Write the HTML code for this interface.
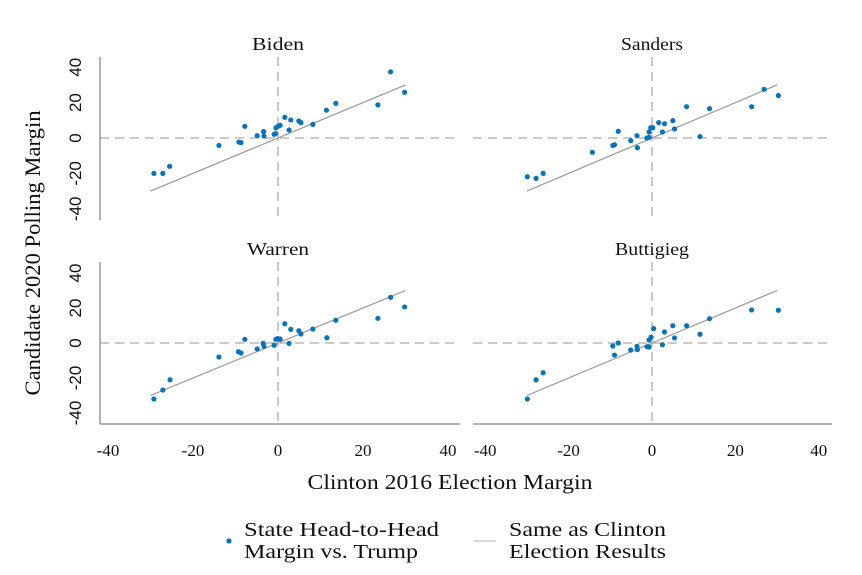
<!DOCTYPE html>
<html><head><meta charset="utf-8"><style>
html,body{margin:0;padding:0;background:#fff;}
svg{display:block;font-family:"Liberation Serif",serif;}
</style></head><body>
<svg id="chart" width="862" height="575" viewBox="0 0 862 575" xmlns="http://www.w3.org/2000/svg">
<g id="panels"></g>
<text x="40" y="253" transform="rotate(-90 40 253)" text-anchor="middle" font-size="22" textLength="285" lengthAdjust="spacingAndGlyphs" fill="#111">Candidate 2020 Polling Margin</text>
<text x="450" y="489" text-anchor="middle" font-size="21" textLength="285" lengthAdjust="spacingAndGlyphs" fill="#111">Clinton 2016 Election Margin</text>
<g>
<circle cx="229" cy="541" r="2.6" fill="#0a72b5"/>
<text x="244" y="536" font-size="20" textLength="195" lengthAdjust="spacingAndGlyphs" fill="#111">State Head-to-Head</text>
<text x="244" y="558" font-size="20" textLength="174" lengthAdjust="spacingAndGlyphs" fill="#111">Margin vs. Trump</text>
<line x1="474" y1="541" x2="496" y2="541" stroke="#ccc" stroke-width="1.5"/>
<text x="509" y="536" font-size="20" textLength="157" lengthAdjust="spacingAndGlyphs" fill="#111">Same as Clinton</text>
<text x="509" y="558" font-size="20" textLength="157" lengthAdjust="spacingAndGlyphs" fill="#111">Election Results</text>
</g>
</svg>
<script>
const panelNames = ["Biden","Sanders","Warren","Buttigieg"];
const titleWidths = [52,62,62,74];
const xTicks = [-40,-20,0,20,40];
const yTicks = [-40,-20,0,20,40];
const bidenX = [-29.2,-27.1,-25.5,-13.9,-9.2,-8.7,-7.8,-4.9,-3.4,-3.3,-0.9,-0.6,-0.5,0,0.5,1.6,2.6,3.0,4.9,5.4,8.2,11.4,13.6,23.5,26.5,29.8];
const bidenY = [-20,-20,-16,-4.2,-2.3,-2.6,6.6,1.3,3.6,1.1,2.1,2.5,5.7,6.6,7.2,11.7,4.5,10.2,9.6,8.7,7.7,15.7,19.6,18.7,37.4,25.8];
const sandersX = [-29.9,-27.8,-26.1,-14.3,-9.4,-9.0,-8.1,-5.1,-3.6,-3.5,-1.2,-0.7,-0.7,-0.3,0.2,1.6,2.5,3.0,5.0,5.4,8.3,11.5,13.8,23.9,26.9,30.3];
const sandersY = [-21.9,-22.8,-20,-8.1,-4.2,-3.8,3.8,-1.5,1.3,-5.5,0,0.4,3.4,5.8,5.8,8.7,3.4,8.1,9.8,5.1,17.7,0.8,16.6,17.7,27.5,24];
const warrenX = [-29.2,-27.1,-25.4,-13.9,-9.3,-8.7,-7.8,-4.9,-3.5,-3.3,-0.9,-0.5,-0.1,0.5,1.6,2.6,3.0,4.9,5.4,8.2,11.5,13.6,23.5,26.5,29.8];
const warrenY = [-32,-26.9,-21,-8,-5,-5.7,2.1,-3.4,-0.2,-1.9,-1.3,2.1,2.5,2.3,11,-0.2,7.8,7,5.1,8,3,13,14.1,26.1,20.6];
const buttX = [-29.9,-27.8,-26.1,-9.4,-9.0,-8.1,-5.1,-3.6,-3.5,-1.2,-0.7,-0.7,-0.2,0.4,2.5,3.0,5.0,5.4,8.3,11.5,13.8,23.9,30.3];
const buttY = [-32,-21,-17,-1.7,-6.9,0,-4,-1.9,-3.8,-2.1,-2.3,1.7,3.4,8.2,-1,6.3,9.9,2.9,9.9,5,13.9,18.9,18.7];
const refLine = [-30,30];

const NS="http://www.w3.org/2000/svg";
const root=document.getElementById('panels');
function mk(tag,attrs,parent){const e=document.createElementNS(NS,tag);for(const k in attrs)e.setAttribute(k,attrs[k]);(parent||root).appendChild(e);return e;}
const layouts=[
 {x0:278,sx:4.25,y0:138,sy:1.77,left:100,right:460,top:57,bottom:220,yAxis:true,xAxis:false,titleY:50,xs:bidenX,ys:bidenY},
 {x0:652,sx:4.17,y0:138,sy:1.77,left:473,right:832,top:57,bottom:220,yAxis:false,xAxis:false,titleY:50,xs:sandersX,ys:sandersY},
 {x0:278,sx:4.25,y0:343,sy:1.75,left:100,right:460,top:262,bottom:424,yAxis:true,xAxis:true,titleY:255,xs:warrenX,ys:warrenY},
 {x0:652,sx:4.17,y0:343,sy:1.75,left:473,right:832,top:262,bottom:424,yAxis:false,xAxis:true,titleY:255,xs:buttX,ys:buttY}
];
layouts.forEach((L,i)=>{
 const g=mk('g',{});
 
 
 const X=v=>L.x0+v*L.sx, Y=v=>L.y0-v*L.sy;
 const t=mk('text',{x:X(0),y:L.titleY,'text-anchor':'middle','font-size':18,textLength:titleWidths[i],lengthAdjust:'spacingAndGlyphs',fill:'#111'},g);
 t.textContent=panelNames[i];
 
 
 const h=mk('line',{x1:L.left,x2:L.right,y1:Y(0),y2:Y(0),stroke:'#aaa','stroke-width':1.3,'stroke-dasharray':'9,6'},g);
 
 
 const v=mk('line',{x1:X(0),x2:X(0),y1:L.top,y2:L.bottom,stroke:'#aaa','stroke-width':1.3,'stroke-dasharray':'9,6'},g);
 
 
 if(L.yAxis){
  const a=mk('line',{x1:L.left,x2:L.left,y1:L.top,y2:L.bottom,stroke:'#999','stroke-width':1.5},g);
  
  
  yTicks.forEach(tv=>{
   const tx=mk('text',{x:0,y:0,transform:`translate(81 ${Y(tv)}) rotate(-90)`,'text-anchor':'middle','font-size':17,'font-family':'Liberation Sans, sans-serif',fill:'#111'},g);
   tx.textContent=tv;
   
   
  });
 }
 if(L.xAxis){
  const a=mk('line',{x1:L.left,x2:L.right,y1:L.bottom,y2:L.bottom,stroke:'#999','stroke-width':1.5},g);
  
  
  xTicks.forEach(tv=>{
   const tx=mk('text',{x:X(tv),y:L.bottom+32,'text-anchor':'middle','font-size':17,fill:'#111'},g);
   tx.textContent=tv;
   
   
  });
 }
 const r=mk('line',{x1:X(refLine[0]),y1:Y(refLine[0]),x2:X(refLine[1]),y2:Y(refLine[1]),stroke:'#999','stroke-width':1.2},g);
 
 
 L.xs.forEach((xv,j)=>{
  const c=mk('circle',{cx:X(xv),cy:Y(L.ys[j]),r:2.6,fill:'#0a72b5'},g);
  
  
 });
});
</script>
</body></html>
